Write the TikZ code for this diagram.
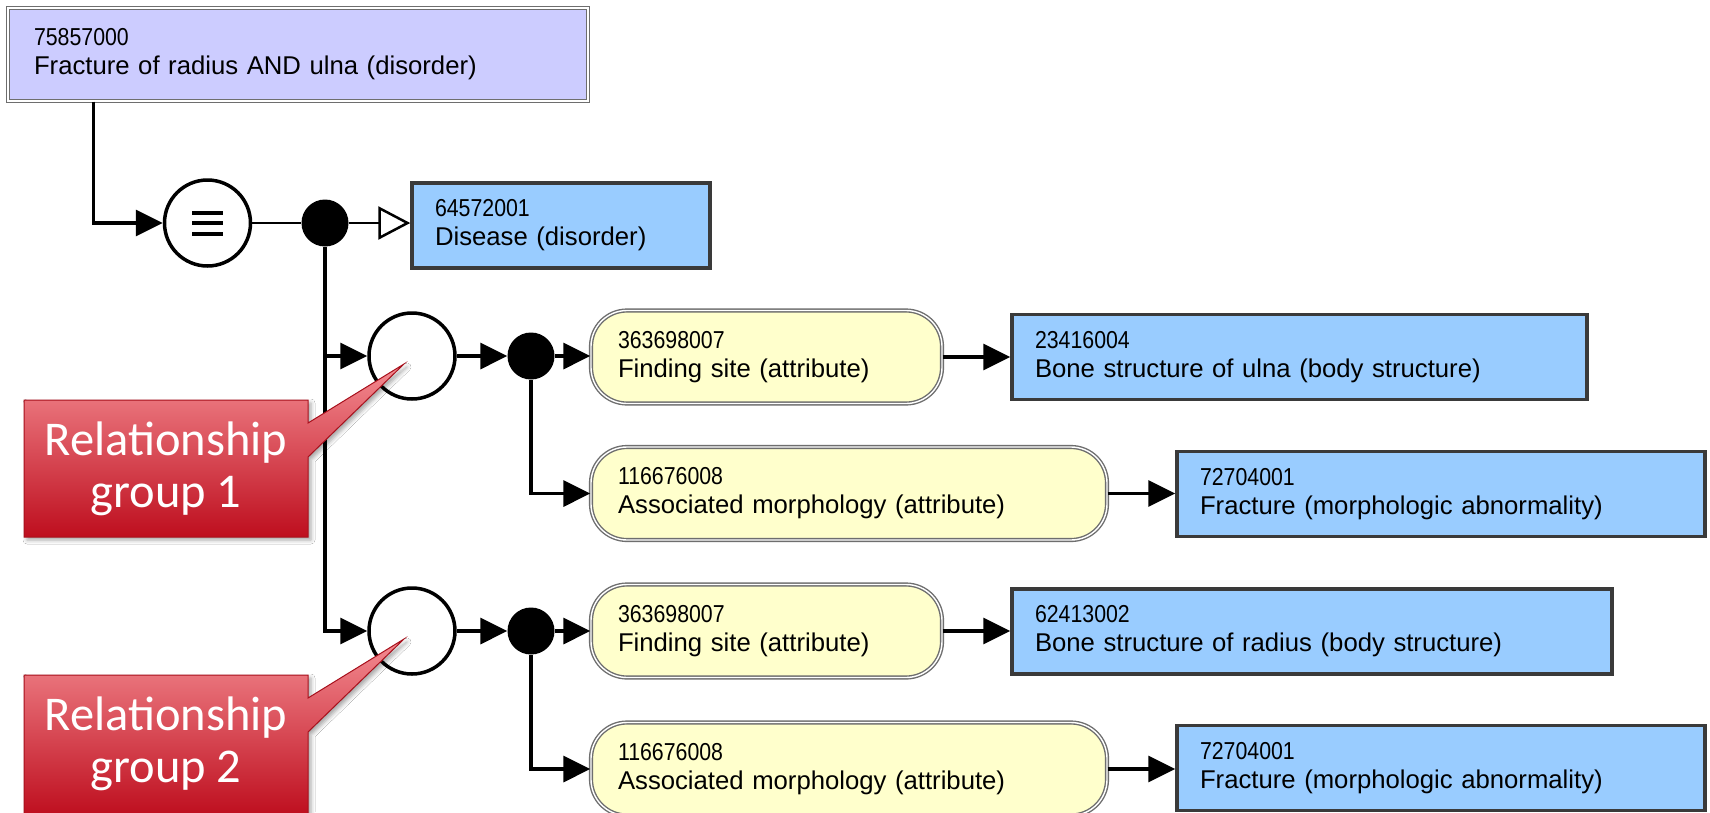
\documentclass[tikz,border=0pt]{standalone}
\usepackage{fontspec}
\setmainfont{Liberation Sans}
\newfontfamily\idfont[FakeStretch=0.87]{Liberation Sans}
\newfontfamily\calloutfont{Carlito}
\usetikzlibrary{arrows.meta,shadows.blur}

\definecolor{definedfill}{HTML}{CCCCFF}
\definecolor{conceptfill}{HTML}{99CCFF}
\definecolor{attrfill}{HTML}{FFFFCC}
\definecolor{boxedge}{HTML}{3A3A3A}
\definecolor{softedge}{HTML}{6E6E6E}
\definecolor{calltop}{HTML}{F48C92}
\definecolor{callbot}{HTML}{BE0E1E}
\definecolor{calledge}{HTML}{A8101C}

% concept identifier line, in a narrow face a little smaller than the term
\newcommand{\cid}[1]{{\idfont\fontsize{24.5}{29}\selectfont #1}\\}

\begin{document}
\begin{tikzpicture}[x=1pt,y=-1pt,
  txt/.style={font=\fontsize{25.7}{29}\selectfont, align=left, inner ysep=0pt, text=black},
  definedbox/.style={txt, rectangle, fill=definedfill, draw=softedge, line width=1.4pt,
    double=white, double distance=1.4pt, inner xsep=26pt, minimum height=93pt},
  conceptbox/.style={txt, rectangle, fill=conceptfill, draw=boxedge, line width=3.5pt,
    inner xsep=23pt, minimum height=85pt},
  attrbox/.style={txt, rectangle, rounded corners=36pt, fill=attrfill, draw=softedge,
    line width=1.4pt, double=white, double distance=1.4pt, inner xsep=27pt, minimum height=93pt},
  opcircle/.style={circle, draw=black, line width=3.5pt, fill=white, minimum size=86pt, inner sep=0pt},
  conj/.style={circle, fill=black, minimum size=47pt, inner sep=0pt},
  link/.style={draw=black, line width=3.5pt},
  arrowlink/.style={link, -{Triangle[length=27pt,width=26pt]}},
  isalink/.style={draw=black, line width=2.8pt, -{Triangle[open,length=32pt,width=33pt,fill=white,line width=2.5pt]}},
  callout/.style={top color=calltop, bottom color=callbot, draw=calledge, line width=1pt,
    blur shadow={shadow xshift=3pt, shadow yshift=-3pt, shadow opacity=35, shadow blur radius=4pt}},
  callouttext/.style={font=\calloutfont\fontsize{48.5}{52}\selectfont, text=white, align=center, inner sep=0pt}
]
\useasboundingbox[fill=white] (0,0) rectangle (1710,812);

% defined concept and its supertype
\node[definedbox, text width=528pt] (fx) at (298,54.5) {\cid{75857000}Fracture of radius AND ulna (disorder)};
\node[opcircle] (eq) at (207.5,223) {};
\foreach \dy in {-10,0,11}
  \draw[line width=4pt] ([shift={(-15.5,\dy)}]eq.center) -- ([shift={(15.5,\dy)}]eq.center);
\node[conj] (d1) at (325,223) {};
\node[conceptbox, text width=252pt] (dis) at (561,225.5) {\cid{64572001}Disease (disorder)};

% relationship group 1
\node[opcircle] (g1) at (412,356) {};
\node[conj] (d2) at (531,356) {};
\node[attrbox, text width=297pt] (p1) at (766.5,357) {\cid{363698007}Finding site (attribute)};
\node[conceptbox, text width=529pt] (v1) at (1299.5,357) {\cid{23416004}Bone structure of ulna (body structure)};
\node[attrbox, text width=462pt] (p2) at (849,493.5) {\cid{116676008}Associated morphology (attribute)};
\node[conceptbox, text width=482pt] (v2) at (1441,494) {\cid{72704001}Fracture (morphologic abnormality)};

% relationship group 2
\node[opcircle] (g2) at (412,631) {};
\node[conj] (d3) at (531,631) {};
\node[attrbox, text width=297pt] (p3) at (766.5,631) {\cid{363698007}Finding site (attribute)};
\node[conceptbox, text width=554pt] (v3) at (1312,631.5) {\cid{62413002}Bone structure of radius (body structure)};
\node[attrbox, text width=462pt] (p4) at (849,769) {\cid{116676008}Associated morphology (attribute)};
\node[conceptbox, text width=482pt] (v4) at (1441,768) {\cid{72704001}Fracture (morphologic abnormality)};

% connectors
\draw[arrowlink] ([xshift=86pt]fx.south west) |- (eq.west);
\draw[link, line width=2.5pt] (eq.east) -- (d1.west);
\draw[isalink] (d1.east) -- (d1.east -| dis.west);
\draw[arrowlink] (d1.south) |- (g2.west);
\draw[arrowlink] (d1.center |- g1.west) -- (g1.west);

\draw[arrowlink] (g1.east) -- (d2.west);
\draw[arrowlink] (d2.east) -- (d2.east -| p1.west);
\draw[arrowlink] (d2.south) |- (p2.west);
\draw[arrowlink] (p1.east) -- (p1.east -| v1.west);
\draw[arrowlink] (p2.east) -- (p2.east -| v2.west);

\draw[arrowlink] (g2.east) -- (d3.west);
\draw[arrowlink] (d3.east) -- (d3.east -| p3.west);
\draw[arrowlink] (d3.south) |- (p4.west);
\draw[arrowlink] (p3.east) -- (p3.east -| v3.west);
\draw[arrowlink] (p4.east) -- (p4.east -| v4.west);

% callouts naming the groups
\coordinate (tip1) at ([shift={(-8,8)}]g1.center);
\path[callout] (24,400) -- (308,400) -- (308,423) -- (tip1) -- (308,457) -- (308,537) -- (24,537) -- cycle;
\node[callouttext] (rg1) at (166,468.5) {Relationship\\group 1};

\coordinate (tip2) at ([shift={(-8,8)}]g2.center);
\path[callout] (24,675) -- (308,675) -- (308,698) -- (tip2) -- (308,732) -- (308,816) -- (24,816) -- cycle;
\node[callouttext] (rg2) at (166,743.5) {Relationship\\group 2};
\end{tikzpicture}
\end{document}
